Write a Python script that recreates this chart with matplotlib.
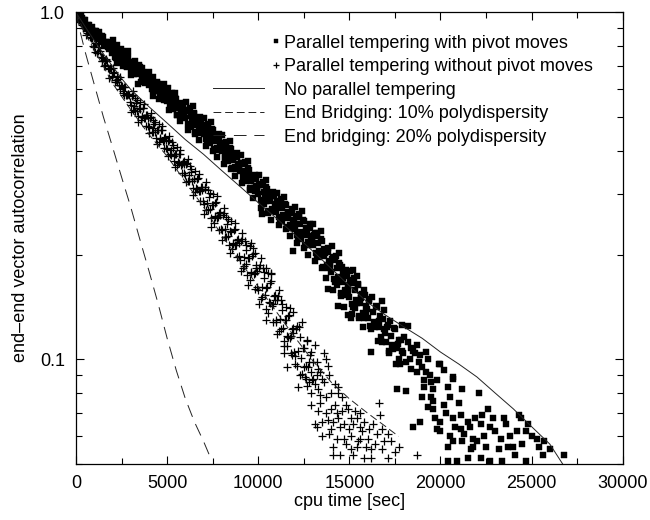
import matplotlib
matplotlib.use("Agg")
import matplotlib.pyplot as plt
from matplotlib.legend_handler import HandlerLine2D
from matplotlib.ticker import FixedLocator, NullFormatter, MultipleLocator

plt.rcParams['font.family'] = ['Liberation Sans', 'DejaVu Sans']

# ---------------- parallel tempering with pivot moves (squares) ----------------
pivot_time = [
    0, 100, 200, 300, 400, 500, 600, 700, 800, 900,
    1000, 1100, 1200, 1300, 1400, 1500, 1600, 1700, 1800, 1900,
    2000, 2100, 2200, 2300, 2400, 2500, 2600, 2700, 2800, 2900,
    3000, 3100, 3200, 3300, 3400, 3500, 3600, 3700, 3800, 3900,
    4000, 4100, 4200, 4300, 4400, 4500, 4600, 4700, 4800, 4900,
    5000, 5100, 5200, 5300, 5400, 5500, 5600, 5700, 5800, 5900,
    6000, 6100, 6200, 6300, 6400, 6500, 6600, 6700, 6800, 6900,
    7000, 7100, 7200, 7300, 7400, 7500, 7600, 7700, 7800, 7900,
    8000, 8100, 8200, 8300, 8400, 8500, 8600, 8700, 8800, 8900,
    9000, 9100, 9200, 9300, 9400, 9500, 9600, 9700, 9800, 9900,
    10000, 10100, 10200, 10300, 10400, 10500, 10600, 10700, 10800, 10900,
    11000, 11100, 11200, 11300, 11400, 11500, 11600, 11700, 11800, 11900,
    12000, 12100, 12200, 12300, 12400, 12500, 12600, 12700, 12800, 12900,
    13000, 13100, 13200, 13300, 13400, 13500, 13600, 13700, 13800, 13900,
    14000, 14100, 14200, 14300, 14400, 14500, 14600, 14700, 14800, 14900,
    15000, 15100, 15200, 15300, 15400, 15500, 15600, 15700, 15800, 15900,
    16000, 16100, 16200, 16300, 16400, 16500, 16600, 16700, 16800, 16900,
    17000, 17100, 17200, 17300, 17400, 17500, 17600, 17700, 17800, 17900,
]
pivot_acf = [
    1.000, 0.990, 0.953, 0.964, 0.935, 0.949, 0.915, 0.919, 0.881, 0.888,
    0.862, 0.883, 0.836, 0.854, 0.829, 0.851, 0.817, 0.824, 0.785, 0.796,
    0.766, 0.802, 0.738, 0.770, 0.738, 0.775, 0.731, 0.747, 0.695, 0.716,
    0.688, 0.720, 0.663, 0.692, 0.663, 0.697, 0.658, 0.672, 0.626, 0.645,
    0.620, 0.648, 0.596, 0.621, 0.595, 0.624, 0.589, 0.602, 0.561, 0.578,
    0.556, 0.582, 0.536, 0.559, 0.535, 0.562, 0.530, 0.541, 0.503, 0.518,
    0.495, 0.525, 0.475, 0.502, 0.478, 0.509, 0.475, 0.489, 0.449, 0.467,
    0.446, 0.473, 0.428, 0.452, 0.429, 0.457, 0.426, 0.438, 0.401, 0.417,
    0.398, 0.421, 0.380, 0.401, 0.380, 0.404, 0.376, 0.386, 0.353, 0.367,
    0.349, 0.369, 0.333, 0.350, 0.332, 0.352, 0.327, 0.335, 0.306, 0.317,
    0.299, 0.321, 0.285, 0.304, 0.287, 0.310, 0.286, 0.296, 0.267, 0.281,
    0.266, 0.286, 0.254, 0.273, 0.257, 0.278, 0.256, 0.265, 0.240, 0.253,
    0.238, 0.259, 0.226, 0.245, 0.230, 0.251, 0.229, 0.240, 0.213, 0.227,
    0.213, 0.231, 0.200, 0.216, 0.201, 0.219, 0.199, 0.206, 0.183, 0.192,
    0.179, 0.197, 0.167, 0.183, 0.169, 0.187, 0.167, 0.176, 0.153, 0.164,
    0.151, 0.169, 0.142, 0.158, 0.145, 0.164, 0.145, 0.154, 0.132, 0.143,
    0.132, 0.149, 0.122, 0.137, 0.124, 0.142, 0.124, 0.133, 0.112, 0.122,
    0.112, 0.126, 0.104, 0.117, 0.107, 0.122, 0.108, 0.114, 0.097, 0.106,
]
pivot_time_mid = [
    50, 150, 250, 350, 450, 550, 650, 750, 850, 950,
    1050, 1150, 1250, 1350, 1450, 1550, 1650, 1750, 1850, 1950,
    2050, 2150, 2250, 2350, 2450, 2550, 2650, 2750, 2850, 2950,
    3050, 3150, 3250, 3350, 3450, 3550, 3650, 3750, 3850, 3950,
    4050, 4150, 4250, 4350, 4450, 4550, 4650, 4750, 4850, 4950,
    5050, 5150, 5250, 5350, 5450, 5550, 5650, 5750, 5850, 5950,
    6050, 6150, 6250, 6350, 6450, 6550, 6650, 6750, 6850, 6950,
    7050, 7150, 7250, 7350, 7450, 7550, 7650, 7750, 7850, 7950,
    8050, 8150, 8250, 8350, 8450, 8550, 8650, 8750, 8850, 8950,
    9050, 9150, 9250, 9350, 9450, 9550, 9650, 9750, 9850, 9950,
    10050, 10150, 10250, 10350, 10450, 10550, 10650, 10750, 10850, 10950,
    11050, 11150, 11250, 11350, 11450, 11550, 11650, 11750, 11850, 11950,
    12050, 12150, 12250, 12350, 12450, 12550, 12650, 12750, 12850, 12950,
    13050, 13150, 13250, 13350, 13450, 13550, 13650, 13750, 13850, 13950,
    14050, 14150, 14250, 14350, 14450, 14550, 14650, 14750, 14850, 14950,
    15050, 15150, 15250, 15350, 15450, 15550, 15650, 15750, 15850, 15950,
    16050, 16150, 16250, 16350, 16450, 16550, 16650, 16750, 16850, 16950,
    17050, 17150, 17250, 17350, 17450, 17550, 17650, 17750, 17850, 17950,
]
pivot_acf_mid = [
    0.997, 0.963, 0.986, 0.945, 0.954, 0.894, 0.919, 0.886, 0.910, 0.878,
    0.884, 0.841, 0.881, 0.836, 0.857, 0.798, 0.821, 0.793, 0.815, 0.787,
    0.801, 0.742, 0.807, 0.746, 0.783, 0.700, 0.740, 0.703, 0.742, 0.705,
    0.719, 0.667, 0.725, 0.670, 0.704, 0.630, 0.666, 0.633, 0.668, 0.635,
    0.647, 0.600, 0.651, 0.601, 0.631, 0.564, 0.597, 0.567, 0.599, 0.570,
    0.581, 0.539, 0.586, 0.541, 0.567, 0.507, 0.536, 0.509, 0.537, 0.510,
    0.523, 0.478, 0.530, 0.484, 0.514, 0.451, 0.483, 0.455, 0.487, 0.460,
    0.471, 0.431, 0.477, 0.435, 0.461, 0.404, 0.433, 0.407, 0.435, 0.410,
    0.420, 0.383, 0.424, 0.385, 0.408, 0.357, 0.382, 0.359, 0.383, 0.360,
    0.368, 0.336, 0.370, 0.336, 0.356, 0.311, 0.331, 0.311, 0.331, 0.311,
    0.319, 0.288, 0.324, 0.291, 0.313, 0.268, 0.291, 0.272, 0.295, 0.276,
    0.285, 0.257, 0.290, 0.260, 0.280, 0.241, 0.262, 0.244, 0.264, 0.247,
    0.257, 0.228, 0.263, 0.233, 0.253, 0.213, 0.235, 0.218, 0.239, 0.221,
    0.229, 0.203, 0.232, 0.205, 0.222, 0.185, 0.203, 0.187, 0.204, 0.188,
    0.195, 0.170, 0.198, 0.173, 0.189, 0.155, 0.172, 0.158, 0.174, 0.160,
    0.167, 0.144, 0.172, 0.148, 0.165, 0.133, 0.150, 0.136, 0.153, 0.140,
    0.147, 0.125, 0.151, 0.128, 0.143, 0.113, 0.129, 0.116, 0.131, 0.119,
    0.124, 0.106, 0.129, 0.110, 0.123, 0.097, 0.111, 0.100, 0.114, 0.104,
]
pivot_time_edge = [
    2025, 2225, 2425, 2625, 2825, 3025, 3225, 3425, 3625, 3825,
    4025, 4225, 4425, 4625, 4825,
    5025, 5125, 5225, 5325, 5425, 5525, 5625, 5725, 5825, 5925,
    6025, 6125, 6225, 6325, 6425, 6525, 6625, 6725, 6825, 6925,
    7025, 7125, 7225, 7325, 7425, 7525, 7625, 7725, 7825, 7925,
    8025, 8125, 8225, 8325, 8425, 8525, 8625, 8725, 8825, 8925,
    9025, 9125, 9225, 9325, 9425, 9525, 9625, 9725, 9825, 9925,
    10025, 10125, 10225, 10325, 10425, 10525, 10625, 10725, 10825, 10925,
    11025, 11125, 11225, 11325, 11425, 11525, 11625, 11725, 11825, 11925,
    12025, 12125, 12225, 12325, 12425, 12525, 12625, 12725, 12825, 12925,
    13025, 13125, 13225, 13325, 13425, 13525, 13625, 13725, 13825, 13925,
    14025, 14125, 14225, 14325, 14425, 14525, 14625, 14725, 14825, 14925,
    15025, 15125, 15225, 15325, 15425, 15525, 15625, 15725, 15825, 15925,
]
pivot_acf_edge = [
    0.834, 0.713, 0.777, 0.706, 0.773, 0.661, 0.703, 0.624, 0.694, 0.637,
    0.674, 0.576, 0.626, 0.569, 0.624,
    0.605, 0.523, 0.576, 0.528, 0.585, 0.506, 0.543, 0.487, 0.547, 0.507,
    0.552, 0.458, 0.521, 0.468, 0.536, 0.446, 0.491, 0.428, 0.499, 0.455,
    0.498, 0.412, 0.469, 0.421, 0.482, 0.400, 0.440, 0.382, 0.446, 0.406,
    0.443, 0.367, 0.417, 0.373, 0.427, 0.354, 0.389, 0.337, 0.393, 0.357,
    0.389, 0.322, 0.365, 0.326, 0.372, 0.308, 0.337, 0.292, 0.339, 0.308,
    0.339, 0.273, 0.318, 0.280, 0.328, 0.265, 0.297, 0.253, 0.303, 0.272,
    0.302, 0.244, 0.284, 0.251, 0.294, 0.238, 0.266, 0.227, 0.272, 0.244,
    0.275, 0.216, 0.257, 0.223, 0.267, 0.210, 0.240, 0.200, 0.246, 0.218,
    0.246, 0.192, 0.227, 0.197, 0.234, 0.183, 0.208, 0.172, 0.210, 0.186,
    0.212, 0.158, 0.194, 0.164, 0.202, 0.152, 0.177, 0.142, 0.181, 0.157,
    0.180, 0.135, 0.166, 0.141, 0.174, 0.132, 0.153, 0.124, 0.158, 0.137,
]
pivot_time_tail = [
    10200, 11900, 13800, 14400, 14900, 15200, 14600, 16800, 16900, 17900,
    18200, 18000, 16200, 15100, 17600, 18100, 18500, 18900, 18400, 18700,
    18900, 19300, 18100, 18400, 18700, 19100, 19500, 19800, 20000, 20700,
    21200, 22100, 19500, 19600, 20500, 19600, 20200, 22600, 19700, 20000,
    20700, 21100, 21500, 21900, 22300, 22900, 23500, 20000, 20500, 21100,
    21600, 22200, 22700, 22400, 23800, 20700, 21200, 21800, 21800, 20400,
    24400, 24800, 24700, 25300, 25700, 25400, 26000, 26800, 20400, 20900,
    21500, 22200, 22700, 23200, 23400, 23700, 24000, 24100, 24700, 24300,
    18200, 18600, 18800, 19000, 19200, 18300, 19400, 18500, 19100, 19600,
    19900, 20700, 19000, 19300, 20300, 20800, 21300, 21700, 22000, 22500,
    23000, 23300, 23600, 24200, 24500, 25000, 25600, 19800, 20200, 19200,
    20400, 21000,
]
pivot_acf_tail = [
    0.262, 0.205, 0.160, 0.143, 0.134, 0.181, 0.185, 0.147, 0.139, 0.126,
    0.125, 0.116, 0.105, 0.132, 0.082, 0.081, 0.064, 0.066, 0.108, 0.110,
    0.103, 0.100, 0.098, 0.094, 0.092, 0.087, 0.086, 0.087, 0.097, 0.089,
    0.082, 0.080, 0.078, 0.076, 0.078, 0.072, 0.074, 0.072, 0.068, 0.066,
    0.068, 0.069, 0.066, 0.068, 0.069, 0.068, 0.068, 0.062, 0.060, 0.063,
    0.064, 0.065, 0.064, 0.060, 0.060, 0.058, 0.058, 0.059, 0.056, 0.056,
    0.068, 0.065, 0.062, 0.059, 0.058, 0.056, 0.055, 0.053, 0.051, 0.051,
    0.052, 0.052, 0.051, 0.055, 0.051, 0.056, 0.056, 0.053, 0.051, 0.069,
    0.112, 0.104, 0.098, 0.095, 0.092, 0.100, 0.090, 0.106, 0.083, 0.082,
    0.097, 0.088, 0.078, 0.073, 0.070, 0.064, 0.061, 0.055, 0.058, 0.056,
    0.062, 0.059, 0.065, 0.062, 0.057, 0.060, 0.053, 0.063, 0.093, 0.105,
    0.083, 0.075,
]

# -------------- parallel tempering without pivot moves (crosses) --------------
nopivot_time = [
    0, 100, 200, 300, 400, 500, 600, 700, 800, 900,
    1000, 1100, 1200, 1300, 1400, 1500, 1600, 1700, 1800, 1900,
    2000, 2100, 2200, 2300, 2400, 2500, 2600, 2700, 2800, 2900,
    3000, 3100, 3200, 3300, 3400, 3500, 3600, 3700, 3800, 3900,
    4000, 4100, 4200, 4300, 4400, 4500, 4600, 4700, 4800, 4900,
    5000, 5100, 5200, 5300, 5400, 5500, 5600, 5700, 5800, 5900,
    6000, 6100, 6200, 6300, 6400, 6500, 6600, 6700, 6800, 6900,
    7000, 7100, 7200, 7300, 7400, 7500, 7600, 7700, 7800, 7900,
    8000, 8100, 8200, 8300, 8400, 8500, 8600, 8700, 8800, 8900,
    9000, 9100, 9200, 9300, 9400, 9500, 9600, 9700, 9800, 9900,
    10000, 10100, 10200, 10300, 10400, 10500, 10600, 10700, 10800, 10900,
    11000, 11100, 11200, 11300, 11400, 11500, 11600, 11700, 11800, 11900,
    12000, 12100, 12200, 12300, 12400, 12500, 12600, 12700, 12800, 12900,
]
nopivot_acf = [
    1.000, 0.990, 0.956, 0.949, 0.902, 0.908, 0.871, 0.890, 0.843, 0.843,
    0.793, 0.815, 0.773, 0.773, 0.724, 0.737, 0.708, 0.725, 0.689, 0.690,
    0.651, 0.672, 0.639, 0.641, 0.602, 0.615, 0.593, 0.608, 0.578, 0.580,
    0.540, 0.577, 0.539, 0.549, 0.502, 0.528, 0.503, 0.531, 0.497, 0.507,
    0.468, 0.500, 0.466, 0.476, 0.434, 0.457, 0.435, 0.459, 0.429, 0.437,
    0.403, 0.430, 0.401, 0.408, 0.372, 0.391, 0.371, 0.392, 0.365, 0.372,
    0.340, 0.368, 0.339, 0.347, 0.311, 0.331, 0.311, 0.333, 0.306, 0.314,
    0.280, 0.313, 0.282, 0.293, 0.255, 0.279, 0.259, 0.284, 0.257, 0.266,
    0.236, 0.264, 0.237, 0.246, 0.213, 0.233, 0.217, 0.238, 0.214, 0.222,
    0.193, 0.222, 0.197, 0.207, 0.175, 0.196, 0.179, 0.201, 0.177, 0.187,
    0.158, 0.187, 0.162, 0.172, 0.140, 0.162, 0.146, 0.168, 0.144, 0.153,
    0.128, 0.152, 0.131, 0.139, 0.113, 0.130, 0.117, 0.134, 0.117, 0.123,
    0.102, 0.125, 0.106, 0.116, 0.091, 0.108, 0.096, 0.114, 0.098, 0.105,
]
nopivot_time_mid = [
    50, 150, 250, 350, 450, 550, 650, 750, 850, 950,
    1050, 1150, 1250, 1350, 1450, 1550, 1650, 1750, 1850, 1950,
    2050, 2150, 2250, 2350, 2450, 2550, 2650, 2750, 2850, 2950,
    3050, 3150, 3250, 3350, 3450, 3550, 3650, 3750, 3850, 3950,
    4050, 4150, 4250, 4350, 4450, 4550, 4650, 4750, 4850, 4950,
    5050, 5150, 5250, 5350, 5450, 5550, 5650, 5750, 5850, 5950,
    6050, 6150, 6250, 6350, 6450, 6550, 6650, 6750, 6850, 6950,
    7050, 7150, 7250, 7350, 7450, 7550, 7650, 7750, 7850, 7950,
    8050, 8150, 8250, 8350, 8450, 8550, 8650, 8750, 8850, 8950,
    9050, 9150, 9250, 9350, 9450, 9550, 9650, 9750, 9850, 9950,
    10050, 10150, 10250, 10350, 10450, 10550, 10650, 10750, 10850, 10950,
    11050, 11150, 11250, 11350, 11450, 11550, 11650, 11750, 11850, 11950,
    12050, 12150, 12250, 12350, 12450, 12550, 12650, 12750, 12850, 12950,
]
nopivot_acf_mid = [
    0.998, 0.953, 0.969, 0.923, 0.914, 0.864, 0.894, 0.847, 0.847, 0.802,
    0.816, 0.765, 0.793, 0.745, 0.742, 0.702, 0.728, 0.691, 0.693, 0.657,
    0.671, 0.631, 0.657, 0.619, 0.619, 0.587, 0.609, 0.580, 0.582, 0.553,
    0.573, 0.523, 0.567, 0.521, 0.529, 0.491, 0.530, 0.495, 0.505, 0.471,
    0.496, 0.453, 0.491, 0.451, 0.458, 0.424, 0.458, 0.427, 0.436, 0.406,
    0.427, 0.390, 0.422, 0.387, 0.392, 0.363, 0.391, 0.364, 0.371, 0.345,
    0.365, 0.327, 0.360, 0.326, 0.332, 0.303, 0.332, 0.305, 0.313, 0.287,
    0.309, 0.269, 0.307, 0.271, 0.279, 0.248, 0.282, 0.255, 0.265, 0.238,
    0.260, 0.226, 0.258, 0.227, 0.234, 0.208, 0.236, 0.213, 0.221, 0.198,
    0.219, 0.184, 0.219, 0.188, 0.196, 0.169, 0.199, 0.176, 0.184, 0.162,
    0.183, 0.149, 0.184, 0.153, 0.161, 0.136, 0.166, 0.143, 0.152, 0.130,
    0.148, 0.121, 0.148, 0.123, 0.130, 0.109, 0.133, 0.115, 0.122, 0.105,
    0.122, 0.096, 0.124, 0.101, 0.108, 0.089, 0.113, 0.095, 0.103, 0.087,
]
nopivot_time_edge = [
    1025, 1225, 1425, 1625, 1825, 2025, 2225, 2425, 2625, 2825,
    3025, 3125, 3225, 3325, 3425, 3525, 3625, 3725, 3825, 3925,
    4025, 4125, 4225, 4325, 4425, 4525, 4625, 4725, 4825, 4925,
    5025, 5125, 5225, 5325, 5425, 5525, 5625, 5725, 5825, 5925,
    6025, 6125, 6225, 6325, 6425, 6525, 6625, 6725, 6825, 6925,
    7025, 7125, 7225, 7325, 7425, 7525, 7625, 7725, 7825, 7925,
    8025, 8125, 8225, 8325, 8425, 8525, 8625, 8725, 8825, 8925,
    9025, 9125, 9225, 9325, 9425, 9525, 9625, 9725, 9825, 9925,
    10025, 10125, 10225, 10325, 10425, 10525, 10625, 10725, 10825, 10925,
    11025, 11125, 11225, 11325, 11425, 11525, 11625, 11725, 11825, 11925,
]
nopivot_acf_edge = [
    0.769, 0.812, 0.724, 0.733, 0.649, 0.690, 0.631, 0.651, 0.577, 0.584,
    0.518, 0.592, 0.521, 0.560, 0.482, 0.552, 0.500, 0.546, 0.470, 0.498,
    0.449, 0.513, 0.451, 0.485, 0.418, 0.478, 0.432, 0.472, 0.406, 0.430,
    0.387, 0.441, 0.388, 0.416, 0.358, 0.409, 0.369, 0.402, 0.345, 0.365,
    0.324, 0.379, 0.326, 0.355, 0.297, 0.349, 0.310, 0.343, 0.287, 0.307,
    0.263, 0.325, 0.269, 0.302, 0.241, 0.299, 0.257, 0.296, 0.236, 0.260,
    0.221, 0.274, 0.226, 0.254, 0.202, 0.250, 0.215, 0.247, 0.197, 0.216,
    0.180, 0.232, 0.186, 0.214, 0.164, 0.212, 0.178, 0.209, 0.160, 0.180,
    0.144, 0.196, 0.151, 0.179, 0.130, 0.178, 0.145, 0.176, 0.128, 0.148,
    0.118, 0.159, 0.122, 0.144, 0.104, 0.142, 0.116, 0.141, 0.103, 0.119,
]
nopivot_time_tail = [
    10700, 11900, 12400, 9600, 9800, 10400, 11400, 11600, 12200, 12900,
    13100, 13500, 13100, 13600, 13700, 13800, 12900, 13200, 13500, 14400,
    14400, 14000, 13400, 13400, 14000, 14200, 14800, 14400, 13800, 14100,
    13500, 13200, 14500, 15100, 15400, 15800, 15600, 15200, 16600, 16300,
    16800, 17100, 16900, 16400, 16000, 15600, 15100, 14700, 14300, 13900,
    14100, 14800, 15100, 15400, 15900, 17700, 14100, 14500, 15200, 15800,
    16200, 17100, 18700, 15600, 13000, 13300, 12600, 12800, 13300, 13700,
    14600, 13100, 13200, 13400, 13600, 13900, 14200, 14600, 14900, 15300,
    15700, 16100, 16500, 16700, 17300, 17500, 14000, 14300, 14700, 15000,
    15500, 16200, 16800, 13300, 13700, 12900, 12700, 12500, 12300, 12000,
    11800, 13000,
]
nopivot_acf_tail = [
    0.178, 0.137, 0.128, 0.217, 0.203, 0.184, 0.109, 0.095, 0.083, 0.074,
    0.065, 0.060, 0.110, 0.104, 0.100, 0.096, 0.092, 0.090, 0.088, 0.083,
    0.080, 0.080, 0.079, 0.075, 0.072, 0.074, 0.074, 0.068, 0.067, 0.066,
    0.066, 0.064, 0.064, 0.068, 0.068, 0.066, 0.064, 0.065, 0.075, 0.065,
    0.063, 0.061, 0.058, 0.057, 0.059, 0.059, 0.060, 0.059, 0.059, 0.061,
    0.056, 0.057, 0.055, 0.056, 0.056, 0.056, 0.053, 0.053, 0.053, 0.052,
    0.052, 0.052, 0.053, 0.070, 0.098, 0.094, 0.088, 0.086, 0.082, 0.078,
    0.071, 0.085, 0.098, 0.092, 0.086, 0.090, 0.085, 0.078, 0.072, 0.071,
    0.062, 0.063, 0.061, 0.069, 0.058, 0.054, 0.063, 0.070, 0.065, 0.063,
    0.058, 0.055, 0.055, 0.071, 0.070, 0.080, 0.084, 0.095, 0.090, 0.097,
    0.104, 0.088,
]

# ---------------- no parallel tempering (solid line) ----------------
plain_time = [0, 500, 1000, 1500, 2000, 2500, 3000, 4000, 5000, 6000, 7000,
              8000, 9000, 10000, 11000, 12000, 13000, 14000, 15000, 16000,
              17000, 18000, 19000, 20000, 21000, 22000, 23000, 24000, 25000,
              26000, 26700]
plain_acf = [1.0, 0.91, 0.83, 0.76, 0.70, 0.645, 0.60, 0.535, 0.48, 0.43, 0.39,
             0.35, 0.315, 0.283, 0.255, 0.229, 0.205, 0.183, 0.163, 0.146,
             0.134, 0.124, 0.115, 0.105, 0.097, 0.089, 0.080, 0.072, 0.064,
             0.057, 0.050]

# ---------------- end bridging, 10% polydispersity ----------------
eb10_time = [0, 250, 500, 1000, 1500, 2000, 3000, 4000, 5000, 6000, 7000, 8000,
             9000, 10000, 11000, 12000, 13000, 14000, 15000, 16000, 17000, 17700]
eb10_acf = [1.0, 0.93, 0.87, 0.78, 0.70, 0.625, 0.525, 0.445, 0.385, 0.325,
            0.275, 0.228, 0.192, 0.162, 0.137, 0.116, 0.099, 0.086, 0.077,
            0.070, 0.064, 0.060]

# ---------------- end bridging, 20% polydispersity ----------------
eb20_time = [0, 250, 500, 1000, 1500, 2000, 2500, 3000, 3500, 4000, 4500, 5000,
             5500, 6000, 6500, 7000, 7450]
eb20_acf = [1.0, 0.87, 0.77, 0.62, 0.50, 0.41, 0.335, 0.275, 0.222, 0.18,
            0.145, 0.115, 0.093, 0.077, 0.066, 0.058, 0.051]

series_labels = [
    "Parallel tempering with pivot moves",
    "Parallel tempering without pivot moves",
    "No parallel tempering",
    "End Bridging: 10% polydispersity",
    "End bridging: 20% polydispersity",
]

fig = plt.figure(figsize=(6.5, 5.2), dpi=100)
ax = fig.add_axes([0.117, 0.108, 0.841, 0.868])

h_pivot, = ax.plot(pivot_time + pivot_time_mid + pivot_time_edge + pivot_time_tail,
                   pivot_acf + pivot_acf_mid + pivot_acf_edge + pivot_acf_tail,
                   linestyle='none', marker='s', ms=3.7, mfc='black',
                   mec='black', mew=0.3, label=series_labels[0])
h_nopivot, = ax.plot(nopivot_time + nopivot_time_mid + nopivot_time_edge
                     + nopivot_time_tail,
                     nopivot_acf + nopivot_acf_mid + nopivot_acf_edge
                     + nopivot_acf_tail,
                     linestyle='none', marker='+', ms=5.4, color='black',
                     mew=0.9, label=series_labels[1])
h_plain, = ax.plot(plain_time, plain_acf, color='#222222', lw=0.7,
                   label=series_labels[2])
h_eb10, = ax.plot(eb10_time, eb10_acf, color='#222222', lw=0.7,
                  dashes=(8.0, 4.0), label=series_labels[3])
h_eb20, = ax.plot(eb20_time, eb20_acf, color='#222222', lw=0.7,
                  dashes=(13.0, 8.0), label=series_labels[4])

ax.set_yscale('log')
ax.set_xlim(0, 30000)
ax.set_ylim(0.05, 1.0)

ax.yaxis.set_major_locator(FixedLocator([0.1, 1.0]))
ax.set_yticklabels(['0.1', '1.0'])
ax.yaxis.set_minor_locator(FixedLocator([0.05, 0.06, 0.07, 0.08, 0.09,
                                         0.2, 0.3, 0.4, 0.5, 0.6, 0.7, 0.8, 0.9]))
ax.yaxis.set_minor_formatter(NullFormatter())
ax.xaxis.set_major_locator(MultipleLocator(5000))
ax.xaxis.set_minor_locator(MultipleLocator(2500))

ax.tick_params(which='both', direction='in', top=True, right=True,
               labelsize=13, width=0.8)
ax.tick_params(which='major', length=6, pad=8)
ax.tick_params(which='minor', length=4)
for s in ax.spines.values():
    s.set_linewidth(0.9)

ax.set_xlabel('cpu time [sec]', fontsize=13, labelpad=1)
ax.set_ylabel('end\u2013end vector autocorrelation', fontsize=13, labelpad=8)


class KeySample(HandlerLine2D):
    """Key sample drawn over a chosen fraction of the handle box."""
    def __init__(self, start, stop, **kw):
        super().__init__(**kw)
        self.start, self.stop = start, stop

    def get_xdata(self, legend, xdescent, ydescent, width, height, fontsize):
        x0 = -xdescent
        xs = [x0 + self.start * width, x0 + self.stop * width]
        return xs, [0.5 * (xs[0] + xs[1])]


point_key = KeySample(0.94, 1.0)
line_key = KeySample(0.0, 0.79)
ax.legend(handles=[h_pivot, h_nopivot, h_plain, h_eb10, h_eb20],
          loc='upper left', bbox_to_anchor=(0.25, 0.951), frameon=False,
          fontsize=13, handlelength=3.6, handletextpad=0.35, labelspacing=0.36,
          borderpad=0, borderaxespad=0, numpoints=1, markerscale=0.85,
          handler_map={h_pivot: point_key, h_nopivot: point_key,
                       h_plain: line_key, h_eb10: line_key, h_eb20: line_key})

fig.savefig('out.png', dpi=100)
